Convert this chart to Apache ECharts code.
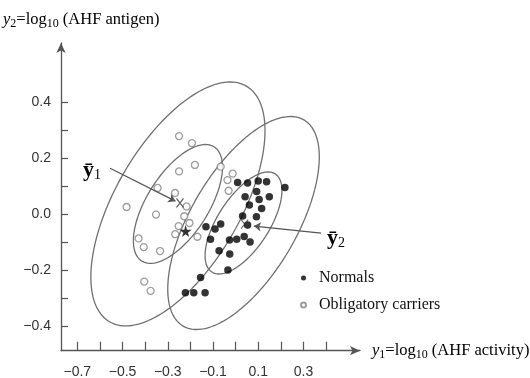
<!DOCTYPE html>
<html>
<head>
<meta charset="utf-8">
<script src="https://cdn.jsdelivr.net/npm/echarts@6/dist/echarts.min.js"></script>
<style>
html,body{margin:0;padding:0;background:#fff;}
#c{width:530px;height:378px;}
</style>
</head>
<body>
<div id="c"></div>
<script>
// ---------- data ----------
const xTicks = [-0.7,-0.6,-0.5,-0.4,-0.3,-0.2,-0.1,0.0,0.1,0.2,0.3,0.4];
const xTickLabels = [-0.7,-0.5,-0.3,-0.1,0.1,0.3];
const yTicks = [-0.4,-0.3,-0.2,-0.1,0.0,0.1,0.2,0.3,0.4];
const yTickLabels = [-0.4,-0.2,0.0,0.2,0.4];

const carriersX = [-0.250,-0.193,-0.250,-0.180,-0.066,-0.013,-0.036,-0.031,-0.345,-0.268,-0.482,-0.217,-0.352,-0.227,-0.204,-0.252,-0.267,-0.169,-0.429,-0.406,-0.334,-0.404,-0.376];
const carriersY = [0.278,0.253,0.152,0.175,0.169,0.144,0.121,0.083,0.093,0.075,0.025,0.027,-0.002,-0.008,-0.032,-0.043,-0.072,-0.081,-0.087,-0.118,-0.132,-0.241,-0.274];

const normalsX = [0.009,0.053,0.100,0.137,0.218,0.093,0.042,0.104,0.149,0.061,0.115,0.031,0.092,0.053,-0.131,-0.091,-0.066,-0.111,-0.027,0.005,0.038,0.064,-0.073,-0.026,-0.034,-0.155,-0.222,-0.185,-0.135];
const normalsY = [0.112,0.111,0.118,0.115,0.095,0.080,0.062,0.052,0.062,0.032,0.020,-0.007,-0.010,-0.039,-0.045,-0.053,-0.036,-0.090,-0.093,-0.090,-0.080,-0.100,-0.131,-0.143,-0.200,-0.226,-0.281,-0.281,-0.281];

// mean vectors (ȳ1 carriers, ȳ2 normals) and the starred observation
const meansX = [-0.246, 0.040];
const meansY = [0.039, -0.036];
const starX = [-0.221];
const starY = [-0.061];

// concentration ellipses: centre, x half-range, y half-range, correlation
const ellCx  = [-0.255, -0.255, 0.035, 0.035];
const ellCy  = [0.036, 0.036, -0.032, -0.032];
const ellA   = [0.385, 0.197, 0.335, 0.170];
const ellB   = [0.435, 0.212, 0.380, 0.182];
const ellRho = [0.60, 0.62, 0.62, 0.64];

// arrows from the ȳ labels to the means
const arrowFrom = [[-0.555, 0.163], [0.378, -0.068]];
const arrowTo   = [[-0.266, 0.046], [0.081, -0.043]];

// ---------- build ----------
function zip(xs, ys){ return xs.map((x,i)=>[x, ys[i]]); }
function ellipsePts(i){
  const pts = [];
  const phi = Math.acos(ellRho[i]);
  for (let k = 0; k <= 200; k++){
    const t = 2*Math.PI*k/200;
    pts.push([ellCx[i] + ellA[i]*Math.cos(t), ellCy[i] + ellB[i]*Math.cos(t - phi)]);
  }
  return pts;
}
const fmt = v => (v < -1e-9 ? '\u2212' : '') + Math.abs(v).toFixed(1);
const tickFont = "'Liberation Sans Narrow','Arial Narrow','Liberation Sans',sans-serif";
const serif = "'Liberation Serif','Times New Roman',serif";
const axisCol = '#555';
const ellCol = '#707070';

const series = [];
for (let i = 0; i < ellCx.length; i++){
  series.push({
    type:'line', data: ellipsePts(i), showSymbol:false, silent:true, smooth:false,
    lineStyle:{color:ellCol, width:1.3}, z:1
  });
}
series.push({
  name:'Obligatory carriers', type:'scatter', data: zip(carriersX, carriersY),
  symbol:'circle', symbolSize:7,
  itemStyle:{color:'#fff', borderColor:'#858585', borderWidth:1.3}, z:3
});
series.push({
  name:'Normals', type:'scatter', data: zip(normalsX, normalsY),
  symbol:'circle', symbolSize:7.5,
  itemStyle:{color:'#000'}, z:3
});
series.push({
  type:'scatter', data: zip(meansX, meansY),
  symbol:'path://M0,0L10,12M10,0L0,12', symbolSize:[7,9],
  itemStyle:{color:'none', borderColor:'#333', borderWidth:1.2}, z:4, silent:true
});
series.push({
  type:'scatter', data: zip(starX, starY),
  symbol:'path://M50,0L61,35L98,35L68,57L79,91L50,70L21,91L32,57L2,35L39,35Z', symbolSize:12,
  itemStyle:{color:'#000'}, z:5, silent:true
});
series.push({
  type:'lines', coordinateSystem:'cartesian2d', silent:true,
  data: arrowFrom.map((f,i)=>({coords:[f, arrowTo[i]]})),
  symbol:['none','arrow'], symbolSize:7,
  lineStyle:{color:'#555', width:1.2, opacity:1}, z:6
});

const titleRich = {
  i:{fontFamily:serif, fontStyle:'italic', fontSize:16.5, lineHeight:20, color:'#111'},
  n:{fontFamily:serif, fontSize:16.5, lineHeight:20, color:'#111'},
  s:{fontFamily:serif, fontSize:12, lineHeight:10, verticalAlign:'bottom', color:'#111'}
};
const barRich = {
  b:{fontFamily:serif, fontWeight:'bold', fontSize:22, lineHeight:24, color:'#111'},
  s:{fontFamily:serif, fontSize:14, lineHeight:10, verticalAlign:'bottom', color:'#111'}
};

const option = {
  animation:false,
  backgroundColor:'#fff',
  grid:{left:61, right:170, top:43, bottom:27.3, containLabel:false, outerBoundsMode:'none'},
  xAxis:{
    type:'value', min:-0.772, max:0.55,
    axisLine:{show:true, onZero:false, symbol:['none','arrow'], symbolSize:[7,10], lineStyle:{color:axisCol, width:1.3}},
    axisTick:{show:true, inside:true, length:9, customValues:xTicks, lineStyle:{color:axisCol, width:1.2}},
    axisLabel:{show:true, customValues:xTickLabels, margin:14, formatter:fmt, fontFamily:tickFont, fontSize:14, color:'#333'},
    splitLine:{show:false}
  },
  yAxis:{
    type:'value', min:-0.4875, max:0.61,
    axisLine:{show:true, onZero:false, symbol:['none','arrow'], symbolSize:[7,10], lineStyle:{color:axisCol, width:1.3}},
    axisTick:{show:true, inside:true, length:7, customValues:yTicks, lineStyle:{color:axisCol, width:1.2}},
    axisLabel:{show:true, customValues:yTickLabels, margin:10, formatter:fmt, fontFamily:tickFont, fontSize:14, color:'#333'},
    splitLine:{show:false}
  },
  legend:{
    orient:'vertical', left:300, top:270, padding:0, itemWidth:5, itemHeight:5, itemGap:11,
    data:['Normals','Obligatory carriers'], selectedMode:false,
    textStyle:{fontFamily:serif, fontSize:16, lineHeight:16, color:'#111', padding:[0,0,0,8]}
  },
  graphic:[
    {type:'text', left:3, top:11, silent:true,
     style:{text:'{i|y}{s|2}{n|=log}{s|10}{n| (AHF antigen)}', rich:titleRich}},
    {type:'text', left:372, top:342, silent:true,
     style:{text:'{i|y}{s|1}{n|=log}{s|10}{n| (AHF activity)}', rich:titleRich}},
    {type:'text', left:83, top:159.5, silent:true,
     style:{text:'{b|\u0233}{s|1}', rich:barRich}},
    {type:'text', left:327, top:227.5, silent:true,
     style:{text:'{b|\u0233}{s|2}', rich:barRich}}
  ],
  series: series
};
const chart = echarts.init(document.getElementById('c'), null, {renderer:'canvas'});
chart.setOption(option);
</script>
</body>
</html>
